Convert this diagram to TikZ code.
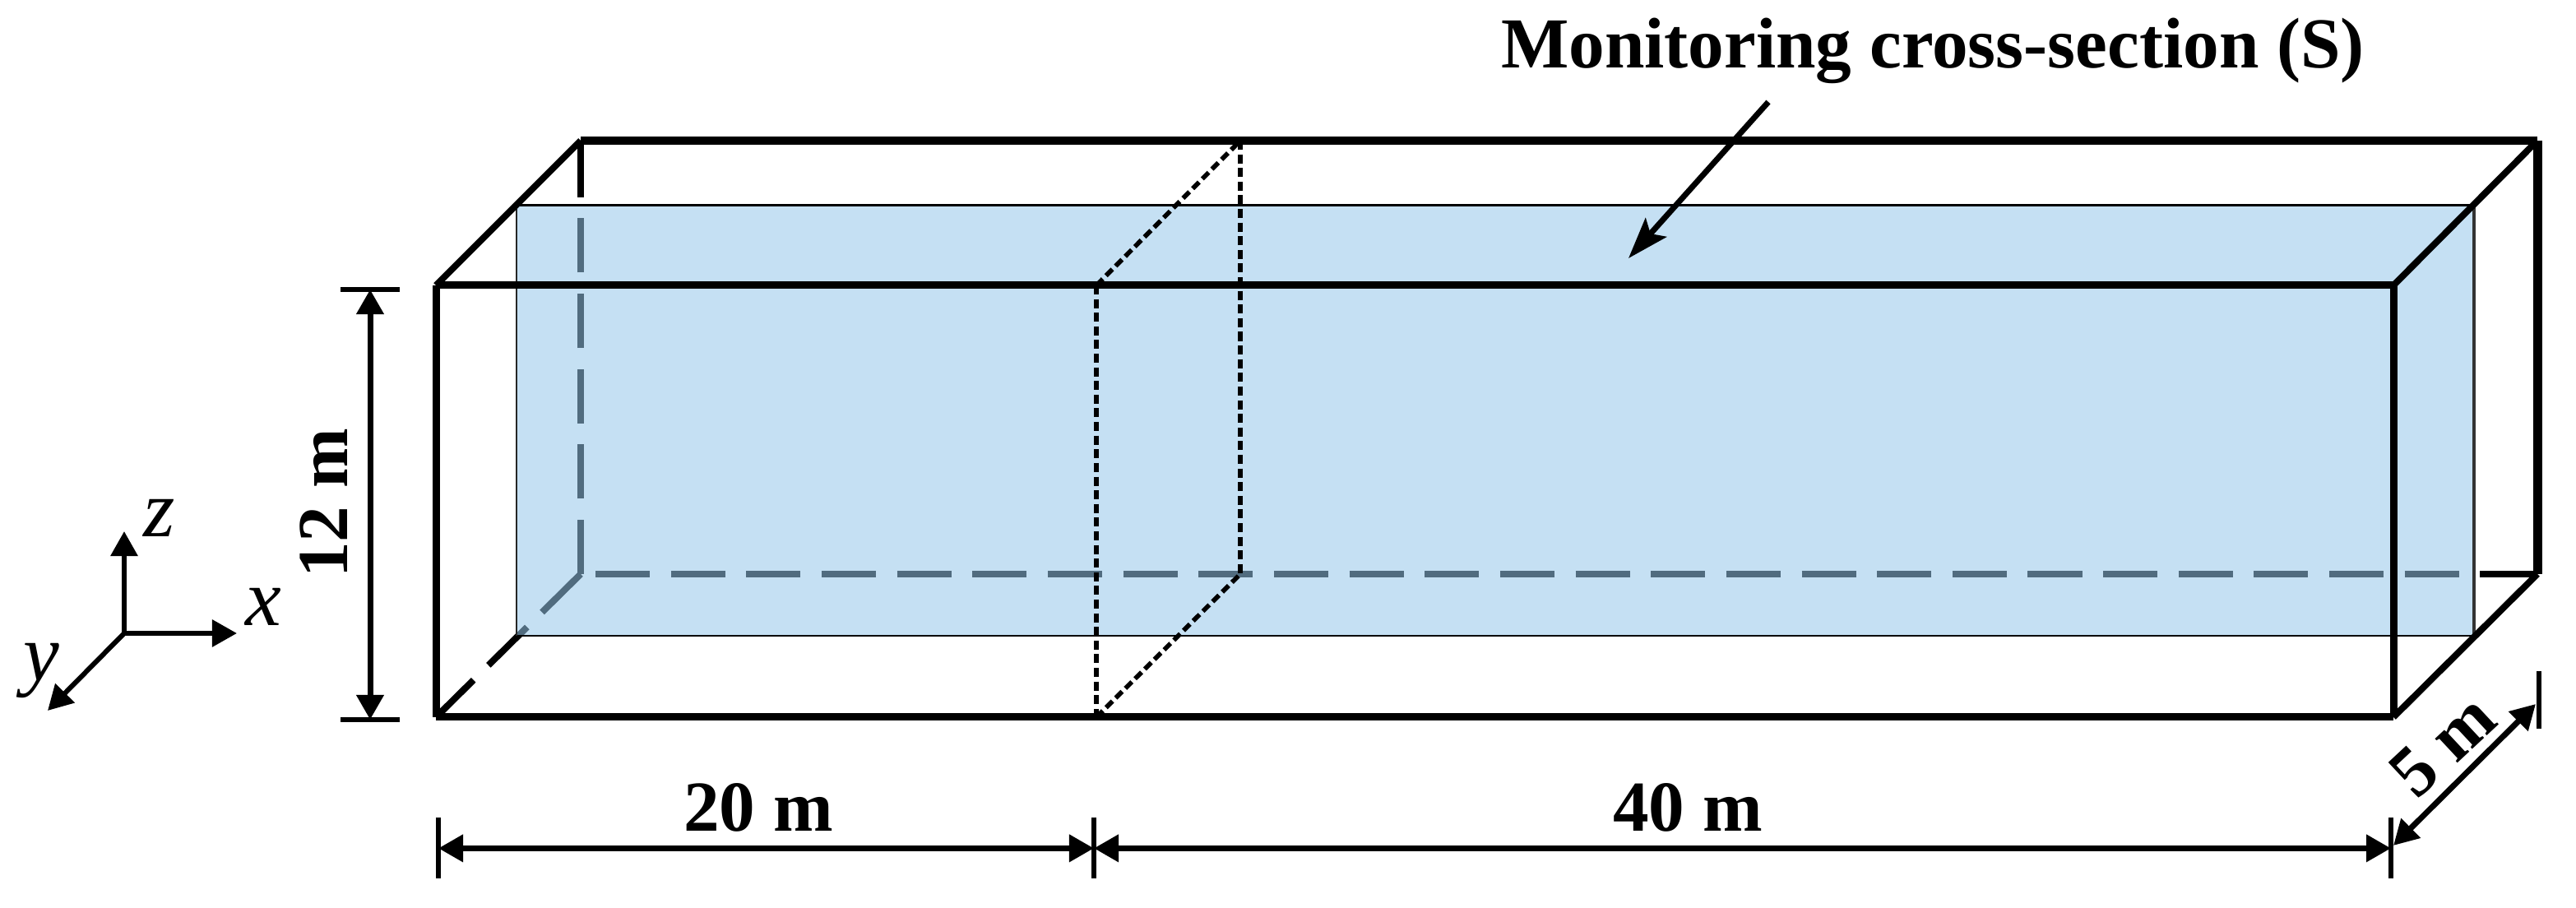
\documentclass[tikz,border=0pt]{standalone}
\usepackage{fontspec}
\setmainfont{Liberation Serif}
\usetikzlibrary{arrows.meta,calc}
\definecolor{sectionblue}{RGB}{149,198,233}
\tikzset{
  edgeline/.style={line width=.045cm},
  diagline/.style={line width=.04cm},
  hiddenline/.style={line width=.04cm, dash pattern=on .33cm off .128cm},
  cutline/.style={line width=.028cm, dash pattern=on .055cm off .028cm},
  dimline/.style={line width=.035cm, {Triangle[length=.15cm,width=.16cm]}-{Triangle[length=.15cm,width=.16cm]}},
  dimtick/.style={line width=.033cm},
  axisline/.style={line width=.03cm, -{Triangle[length=.15cm,width=.16cm]}},
  dimlabel/.style={font=\fontsize{12.4}{14}\selectfont\bfseries, inner sep=0pt},
  axislabel/.style={font=\fontsize{14}{16}\selectfont\itshape, inner sep=0pt}
}
\begin{document}
\begin{tikzpicture}[x=.01cm,y=-.01cm]
      \useasboundingbox (0,0) rectangle (1566,552);

      % box corners
      \coordinate (ftl) at (265,173.5);
      \coordinate (ftr) at (1455,173.5);
      \coordinate (fbl) at (265,436);
      \coordinate (fbr) at (1455,436);
      \coordinate (btl) at (353,85.5);
      \coordinate (btr) at (1542.5,85.5);
      \coordinate (bbl) at (353,349);
      \coordinate (bbr) at (1542.5,349);
      % cut at 20 m
      \coordinate (mft) at (666.5,173.5);
      \coordinate (mfb) at (666.5,436);
      \coordinate (mbt) at (754,85.5);
      \coordinate (mbb) at (754,349);

      % hidden edges, under the section
      \draw[hiddenline] (bbl) -- (btl);
      \draw[hiddenline, dash phase=.368cm] (bbl) -- (bbr);
      \draw[hiddenline] (bbl) -- (fbl);

      % monitoring section
      \fill[sectionblue, fill opacity=.55] (314,124.7) rectangle (1504,386.5);
      \draw[line width=.014cm] (314,124.7) -- (1504,124.7);
      \draw[line width=.014cm] (314,386.5) -- (1504,386.5);
      \draw[line width=.014cm, black!85] (314,124.7) -- (314,386.5);
      \draw[line width=.02cm, black!80] (1504,124.7) -- (1504,386.5);

      \draw[cutline] (mft) -- (mfb);
      \draw[cutline] (mbt) -- (mbb);
      \draw[cutline] (mft) -- (mbt);
      \draw[cutline] (mfb) -- (mbb);

      \draw[edgeline] (ftl) -- (ftr);
      \draw[edgeline] (fbl) -- (fbr);
      \draw[edgeline] (ftl) -- (fbl);
      \draw[edgeline] (ftr) -- (fbr);
      \draw[line width=.05cm] (btl) -- (btr);
      \draw[diagline] (ftl) -- (btl);
      \draw[diagline] (ftr) -- (btr);
      \draw[diagline] (fbr) -- (bbr);
      \draw[line width=.055cm] (btr) -- (bbr);

      % title and its arrow
      \node[dimlabel] (title) at (1175,31) {Monitoring cross-section (S)};
      \coordinate (ptrstart) at (1075,62);
      \coordinate (ptrend) at (990,157);
      \draw[line width=.035cm, -{Stealth[length=.25cm,width=.17cm,inset=.05cm]}] (ptrstart) -- (ptrend);

      % 12 m
      \coordinate (hta) at (207,176);
      \coordinate (htb) at (243,176);
      \coordinate (hba) at (207,437.5);
      \coordinate (hbb) at (243,437.5);
      \coordinate (hup) at (225,176);
      \coordinate (hlo) at (225,437.5);
      \draw[dimtick] (hta) -- (htb);
      \draw[dimtick] (hba) -- (hbb);
      \draw[dimline] (hup) -- (hlo);
      \node[dimlabel, rotate=90] (hlabel) at (197,306) {12 m};

      % 20 m and 40 m
      \coordinate (la) at (266.5,497);
      \coordinate (lb) at (266.5,534);
      \coordinate (ca) at (665,497);
      \coordinate (cb) at (665,534);
      \coordinate (ra) at (1453.5,497);
      \coordinate (rb) at (1453.5,534);
      \coordinate (dl) at (266.5,515.7);
      \coordinate (dc) at (665,515.7);
      \coordinate (dr) at (1453.5,515.7);
      \draw[dimtick] (la) -- (lb);
      \draw[dimtick] (ca) -- (cb);
      \draw[dimtick] (ra) -- (rb);
      \draw[dimline] (dl) -- (dc);
      \draw[dimline] (dc) -- (dr);
      \node[dimlabel] (llabel) at (461,491) {20 m};
      \node[dimlabel] (wlabel) at (1026,491) {40 m};

      % 5 m
      \coordinate (dpa) at (1543.5,408);
      \coordinate (dpb) at (1543.5,443);
      \coordinate (dpl) at (1455,514);
      \coordinate (dpr) at (1541.5,428);
      \draw[dimtick] (dpa) -- (dpb);
      \draw[dimline] (dpl) -- (dpr);
      \node[dimlabel, rotate=43] (dlabel) at (1485,453) {5 m};

      % axes
      \coordinate (orig) at (75.5,385);
      \coordinate (ztip) at (75.5,323);
      \coordinate (xtip) at (144,385);
      \coordinate (ytip) at (29,432);
      \draw[axisline] (orig) -- (ztip);
      \draw[axisline] (orig) -- (xtip);
      \draw[axisline] (orig) -- (ytip);
      \node[axislabel] (zlabel) at (97,315) {z};
      \node[axislabel] (xlabel) at (160,369) {x};
      \node[axislabel] (ylabel) at (25,408) {y};

\end{tikzpicture}
\end{document}
